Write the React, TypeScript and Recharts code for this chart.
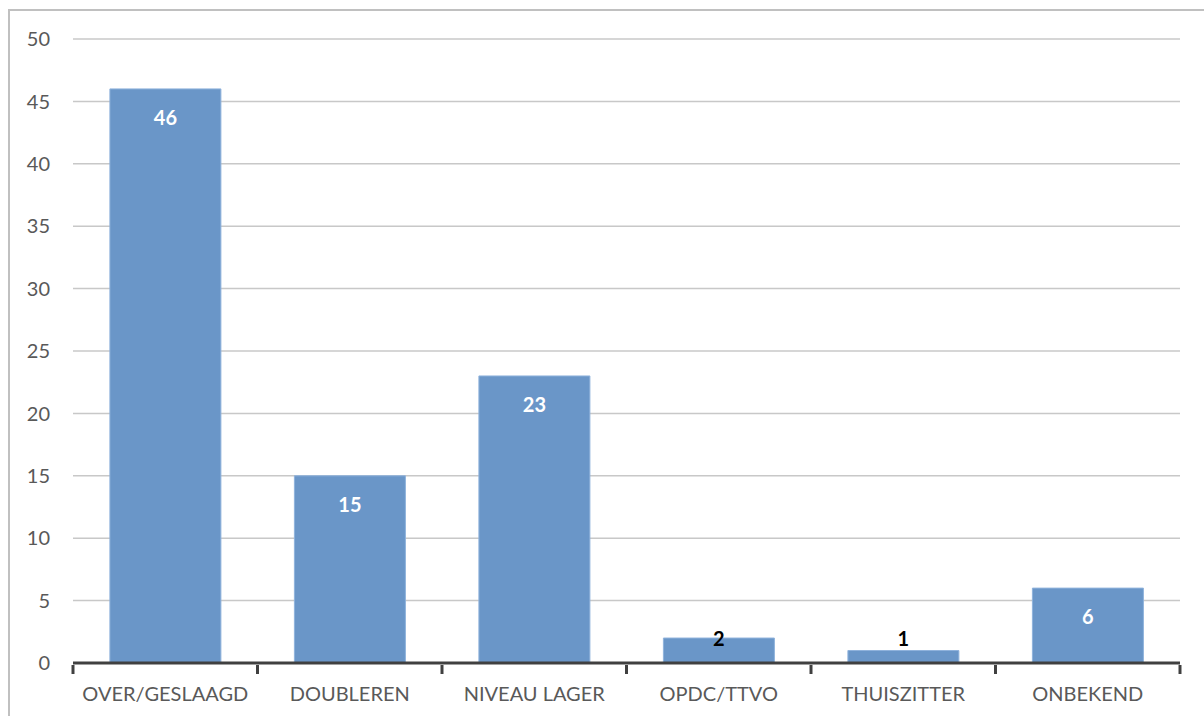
import { BarChart, Bar, XAxis, YAxis, CartesianGrid, LabelList } from 'recharts';

// Outflow of pupils per category
const categories = ['OVER/GESLAAGD', 'DOUBLEREN', 'NIVEAU LAGER', 'OPDC/TTVO', 'THUISZITTER', 'ONBEKEND'];
const counts = [46, 15, 23, 2, 1, 6];
const yTicks = [0, 5, 10, 15, 20, 25, 30, 35, 40, 45, 50];

const data = categories.map((name, i) => ({ name, value: counts[i] }));

const W = 1204;
const H = 716;
const MARGIN = { top: 39, right: 24, left: 0, bottom: 0 };
const Y_AXIS_W = 73;
const X_AXIS_H = 53;
const FONT = 'Lato, "Open Sans", sans-serif';
const BAR = '#6a96c8';

const plotW = W - MARGIN.right - Y_AXIS_W;
const band = plotW / categories.length;

// x labels plus the tick marks that sit between categories
function CategoryTick({ x, y, payload, index }: any) {
  return (
    <g>
      <line x1={x - band / 2} x2={x - band / 2} y1={y - 6} y2={y + 3} stroke="#404040" strokeWidth={3} />
      {index === categories.length - 1 && (
        <line x1={x + band / 2} x2={x + band / 2} y1={y - 6} y2={y + 3} stroke="#404040" strokeWidth={3} />
      )}
      <text x={x} y={y + 30} textAnchor="middle" fill="#595959" fontSize={20} fontFamily={FONT}>
        {payload.value}
      </text>
    </g>
  );
}

function ValueLabel({ x, y, width, height, value }: any) {
  const base = y + height;
  const inside = y + 28;
  const limit = base - 25;
  const dark = inside > limit;
  return (
    <text
      x={x + width / 2}
      y={Math.min(inside, limit)}
      textAnchor="middle"
      dominantBaseline="central"
      fill={dark ? '#000000' : '#ffffff'}
      fontSize={20}
      fontWeight="bold"
      fontFamily={FONT}
    >
      {value}
    </text>
  );
}

export default function App() {
  return (
    <div style={{ position: 'absolute', left: 0, top: 0, width: W, height: H, overflow: 'hidden', background: '#fff' }}>
      <div
        style={{
          position: 'absolute',
          left: 8,
          top: 9,
          width: 1400,
          height: 900,
          border: '2px solid #c0c0c0',
        }}
      />
      <div style={{ position: 'absolute', left: 0, top: 0 }}>
        <BarChart width={W} height={H} data={data} margin={MARGIN} barCategoryGap="20%">
          <CartesianGrid vertical={false} stroke="#c8c8c8" strokeWidth={1.5} />
          <XAxis
            dataKey="name"
            height={X_AXIS_H}
            axisLine={{ stroke: '#404040', strokeWidth: 3 }}
            tickLine={false}
            tick={<CategoryTick />}
            interval={0}
          />
          <YAxis
            width={Y_AXIS_W}
            domain={[0, 50]}
            ticks={yTicks}
            axisLine={false}
            tickLine={false}
            tickSize={6}
            tickMargin={17}
            tick={{ fill: '#595959', fontSize: 20, fontFamily: FONT }}
          />
          <Bar dataKey="value" fill={BAR} stroke="#8fb2dc" strokeWidth={1} isAnimationActive={false}>
            <LabelList dataKey="value" content={<ValueLabel />} />
          </Bar>
        </BarChart>
      </div>
    </div>
  );
}
